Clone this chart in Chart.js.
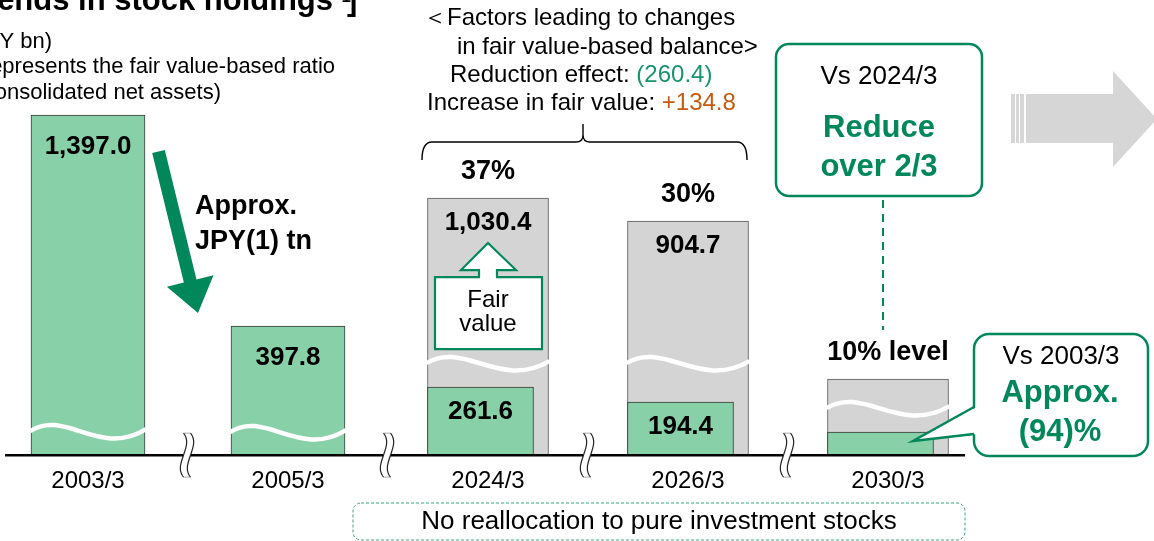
<!DOCTYPE html>
<html>
<head>
<meta charset="utf-8">
<script src="https://cdn.jsdelivr.net/npm/chart.js@4.4.1/dist/chart.umd.min.js"></script>
<style>
  html, body { margin: 0; padding: 0; background: #fff; overflow: hidden; }
  #wrap { position: absolute; left: -12px; top: 0; width: 1166px; height: 541px; }
</style>
</head>
<body>
<div id="wrap"><canvas id="myChart" width="1166" height="541"></canvas></div>
<script>
const categories = ['2003/3', '2005/3', '2024/3', '2026/3', '2030/3'];
// balances printed on the bars (JPY bn)
const bookValues = [1397.0, 397.8, 261.6, 194.4, null];
const fairValues = [null, null, 1030.4, 904.7, null];
// fair value-based ratio to consolidated net assets
const ratioLabels = [null, null, '37%', '30%', '10% level'];
// bar heights as drawn on the broken axis (axis units)
const bookHeights = [340, 129, 68, 53, 23];
const fairHeights = [null, null, 257, 234, 76];

const SHIFT = 12; // canvas starts 12px left of the page
const FONT = '"Liberation Sans", Arial, sans-serif';
const GREEN = '#00875A';
const WAVE_AT = [23, 22, 91, 91, 46]; // where the white break line crosses each bar

function font(size, bold) {
  return (bold ? 'bold ' : '') + size + 'px ' + FONT;
}

function text(ctx, str, x, y, size, bold, color, align) {
  ctx.font = font(size, bold);
  ctx.fillStyle = color || '#000';
  ctx.textAlign = align || 'center';
  ctx.textBaseline = 'middle';
  ctx.fillText(str, x, y);
}

function wave(ctx, left, right, y) {
  const w = right - left;
  ctx.beginPath();
  ctx.moveTo(left, y - 1);
  ctx.bezierCurveTo(left + w * 0.3, y - 24, left + w * 0.6, y + 26, right, y - 3);
  ctx.strokeStyle = '#fff';
  ctx.lineWidth = 4.5;
  ctx.stroke();
}

// the "≀≀" mark that cuts the axis between periods
function axisBreak(ctx, x, top, bot) {
  const h = bot - top, a = x - 3.5, b = x + 3.5;
  const side = s => ctx.bezierCurveTo(s + 11, top + h * 0.3, s - 11, top + h * 0.7, s, bot);
  ctx.beginPath();
  ctx.moveTo(a, top);
  side(a);
  ctx.lineTo(b, bot);
  ctx.bezierCurveTo(b - 11, top + h * 0.7, b + 11, top + h * 0.3, b, top);
  ctx.closePath();
  ctx.fillStyle = '#fff';
  ctx.fill();
  ctx.strokeStyle = '#c8c8c8';
  ctx.lineWidth = 1.5;
  ctx.beginPath();
  ctx.moveTo(a, top); ctx.lineTo(b, top);
  ctx.moveTo(a, bot); ctx.lineTo(b, bot);
  ctx.stroke();
  ctx.strokeStyle = '#222';
  ctx.lineWidth = 1.2;
  [a, b].forEach(s => {
    ctx.beginPath();
    ctx.moveTo(s, top);
    side(s);
    ctx.stroke();
  });
}

function fmt(v) {
  return v.toLocaleString('en-US', { minimumFractionDigits: 1, maximumFractionDigits: 1 });
}

function drawNotes(chart) {
  const ctx = chart.ctx;
  const fair = chart.getDatasetMeta(1).data;
  ctx.save();
  ctx.translate(SHIFT, 0);

  // header, cut at the page edge
  ctx.font = font(31, true);
  ctx.fillStyle = '#000';
  ctx.textAlign = 'right';
  ctx.textBaseline = 'alphabetic';
  ctx.fillText('[Trends in stock holdings', 333, 10);
  ctx.textAlign = 'left';
  ctx.font = font(17, true);
  ctx.fillText('*1', 335, 2);
  ctx.font = font(31, true);
  ctx.fillText(']', 347, 10);

  text(ctx, '(JPY bn)', 52, 42, 22, false, '#000', 'right');
  text(ctx, '(% represents the fair value-based ratio', 335, 67, 22, false, '#000', 'right');
  text(ctx, 'to consolidated net assets)', 221, 93, 22, false, '#000', 'right');

  // green down arrow
  const S = { x: 158.5, y: 151.5 }, T = { x: 198, y: 313 };
  const len = Math.hypot(T.x - S.x, T.y - S.y);
  const u = { x: (T.x - S.x) / len, y: (T.y - S.y) / len };
  const n = { x: -u.y, y: u.x };
  const B = { x: T.x - u.x * 33, y: T.y - u.y * 33 };
  const p = (o, k) => [o.x + n.x * k, o.y + n.y * k];
  ctx.beginPath();
  [p(S, 6.5), p(B, 6.5), p(B, 24), [T.x, T.y], p(B, -24), p(B, -6.5), p(S, -6.5)]
    .forEach((q, i) => i ? ctx.lineTo(q[0], q[1]) : ctx.moveTo(q[0], q[1]));
  ctx.closePath();
  ctx.fillStyle = GREEN;
  ctx.fill();
  text(ctx, 'Approx.', 195, 207, 27, true, '#000', 'left');
  text(ctx, 'JPY(1) tn', 195, 242, 27, true, '#000', 'left');

  // factors block and brace
  text(ctx, '\uFF1CFactors leading to changes', 423, 18, 24, false, '#000', 'left');
  text(ctx, 'in fair value-based balance>', 457, 47, 24, false, '#000', 'left');
  ctx.font = font(24);
  const s1 = 'Reduction effect: ';
  const w1 = ctx.measureText(s1).width;
  text(ctx, s1, 450, 75, 24, false, '#000', 'left');
  text(ctx, '(260.4)', 450 + w1, 75, 24, false, '#16956B', 'left');
  ctx.font = font(24);
  const s2 = 'Increase in fair value: ';
  const w2 = ctx.measureText(s2).width;
  text(ctx, s2, 427, 103, 24, false, '#000', 'left');
  text(ctx, '+134.8', 427 + w2, 103, 24, false, '#C65A11', 'left');

  ctx.beginPath();
  ctx.moveTo(422, 160);
  ctx.quadraticCurveTo(422, 142, 432, 142);
  ctx.lineTo(576, 142);
  ctx.quadraticCurveTo(583, 142, 583, 135);
  ctx.lineTo(583, 124);
  ctx.moveTo(583, 135);
  ctx.quadraticCurveTo(583, 142, 590, 142);
  ctx.lineTo(737, 142);
  ctx.quadraticCurveTo(747, 142, 747, 160);
  ctx.strokeStyle = '#000';
  ctx.lineWidth = 1.4;
  ctx.stroke();

  // "Fair value" up arrow inside the 2024/3 bar
  const fb = fair[2];
  const cx = fb.x - SHIFT, ty = fb.y;
  ctx.beginPath();
  const pts = [[-53, 79], [-9, 79], [-9, 72], [-27, 72], [0, 45], [28, 72], [9, 72], [9, 79], [54, 79], [54, 151], [-53, 151]];
  pts.forEach((q, i) => i ? ctx.lineTo(cx + q[0], ty + q[1]) : ctx.moveTo(cx + q[0], ty + q[1]));
  ctx.closePath();
  ctx.fillStyle = '#fff';
  ctx.fill();
  ctx.strokeStyle = GREEN;
  ctx.lineWidth = 2.2;
  ctx.stroke();
  text(ctx, 'Fair', cx, ty + 102, 24);
  text(ctx, 'value', cx, ty + 126, 24);

  // Vs 2024/3 box
  ctx.beginPath();
  ctx.roundRect(776, 44, 206, 152, 13);
  ctx.fillStyle = '#fff';
  ctx.fill();
  ctx.strokeStyle = GREEN;
  ctx.lineWidth = 2.5;
  ctx.stroke();
  text(ctx, 'Vs 2024/3', 879, 77, 26);
  text(ctx, 'Reduce', 879, 128, 31, true, GREEN);
  text(ctx, 'over 2/3', 879, 167, 31, true, GREEN);
  ctx.beginPath();
  ctx.setLineDash([8, 6]);
  ctx.moveTo(883, 200);
  ctx.lineTo(883, 330);
  ctx.lineWidth = 2;
  ctx.stroke();
  ctx.setLineDash([]);

  // big gray arrow
  ctx.fillStyle = '#D6D6D6';
  [[1011, 4], [1016, 3], [1020, 4]].forEach(r => ctx.fillRect(r[0], 94, r[1], 49));
  ctx.beginPath();
  ctx.moveTo(1026, 94);
  ctx.lineTo(1113, 94);
  ctx.lineTo(1113, 71);
  ctx.lineTo(1157, 119);
  ctx.lineTo(1113, 167);
  ctx.lineTo(1113, 143);
  ctx.lineTo(1026, 143);
  ctx.closePath();
  ctx.fill();

  // Vs 2003/3 callout
  ctx.beginPath();
  ctx.roundRect(974, 334, 174, 122, 15);
  ctx.fillStyle = '#fff';
  ctx.fill();
  ctx.strokeStyle = GREEN;
  ctx.lineWidth = 2.5;
  ctx.stroke();
  ctx.beginPath();
  ctx.moveTo(977, 407);
  ctx.lineTo(913, 441);
  ctx.lineTo(977, 434);
  ctx.closePath();
  ctx.fillStyle = '#fff';
  ctx.fill();
  ctx.beginPath();
  ctx.moveTo(974, 407);
  ctx.lineTo(913, 441);
  ctx.lineTo(974, 434);
  ctx.stroke();
  text(ctx, 'Vs 2003/3', 1061, 357, 26);
  text(ctx, 'Approx.', 1060, 393, 31, true, GREEN);
  text(ctx, '(94)%', 1060, 432, 31, true, GREEN);

  // bottom note
  ctx.beginPath();
  ctx.roundRect(353, 503, 612, 37, 8);
  ctx.setLineDash([3, 2]);
  ctx.strokeStyle = '#3DA57C';
  ctx.lineWidth = 1;
  ctx.stroke();
  ctx.setLineDash([]);
  text(ctx, 'No reallocation to pure investment stocks', 659, 522, 26);

  ctx.restore();
}

const decorations = {
  id: 'decorations',
  afterDatasetsUpdate(chart) {
    const book = chart.getDatasetMeta(0).data;
    const fair = chart.getDatasetMeta(1).data;
    // book-value bars sit left-aligned inside the fair-value bars
    book.forEach((bar, i) => {
      if (fairHeights[i] == null) return;
      const left = fair[i].x - fair[i].width / 2;
      bar.width = 106;
      bar.x = left + bar.width / 2;
    });
  },
  afterDatasetsDraw(chart) {
    const ctx = chart.ctx;
    const xs = chart.scales.x, ys = chart.scales.y;
    const book = chart.getDatasetMeta(0).data;
    const fair = chart.getDatasetMeta(1).data;
    const base = ys.getPixelForValue(0);
    ctx.save();

    categories.forEach((c, i) => {
      const bar = fairHeights[i] != null ? fair[i] : book[i];
      wave(ctx, bar.x - bar.width / 2 - 1, bar.x + bar.width / 2 + 1, ys.getPixelForValue(WAVE_AT[i]));
    });

    ctx.beginPath();
    ctx.moveTo(5 + SHIFT, base);
    ctx.lineTo(965 + SHIFT, base);
    ctx.strokeStyle = '#000';
    ctx.lineWidth = 2.5;
    ctx.stroke();

    for (let i = 0; i < categories.length - 1; i++) {
      const mx = (xs.getPixelForValue(i) + xs.getPixelForValue(i + 1)) / 2 - 1;
      axisBreak(ctx, mx, base - 22, base + 22);
    }

    categories.forEach((c, i) => {
      const g = book[i], f = fair[i];
      if (bookValues[i] != null) {
        text(ctx, fmt(bookValues[i]), g.x, g.y + (fairHeights[i] == null ? 32 : 25), 26, true);
      }
      if (fairValues[i] != null) {
        text(ctx, fmt(fairValues[i]), f.x, f.y + 25, 26, true);
      }
      if (ratioLabels[i] != null) {
        text(ctx, ratioLabels[i], f.x, f.y - 27, 27, true);
      }
    });
    ctx.restore();
  },
  afterDraw(chart) {
    drawNotes(chart);
  }
};

new Chart(document.getElementById('myChart'), {
  type: 'bar',
  data: {
    labels: categories,
    datasets: [
      {
        label: 'Book value',
        data: bookHeights,
        backgroundColor: '#88D0A8',
        borderColor: '#3a3a3a',
        borderWidth: 1,
        barThickness: 114,
        grouped: false
      },
      {
        label: 'Fair value',
        data: fairHeights,
        backgroundColor: '#D4D4D4',
        borderColor: '#5a5a5a',
        borderWidth: 1,
        barThickness: 121,
        grouped: false
      }
    ]
  },
  options: {
    responsive: false,
    animation: false,
    layout: { padding: { top: 55, bottom: 33, left: 0, right: 166 } },
    plugins: { legend: { display: false }, tooltip: { enabled: false } },
    scales: {
      x: {
        grid: { display: false, drawTicks: false },
        border: { display: false },
        ticks: { color: '#000', font: { family: FONT, size: 24 }, padding: 12 }
      },
      y: { display: false, min: 0, max: 400 }
    }
  },
  plugins: [decorations]
});
</script>
</body>
</html>
